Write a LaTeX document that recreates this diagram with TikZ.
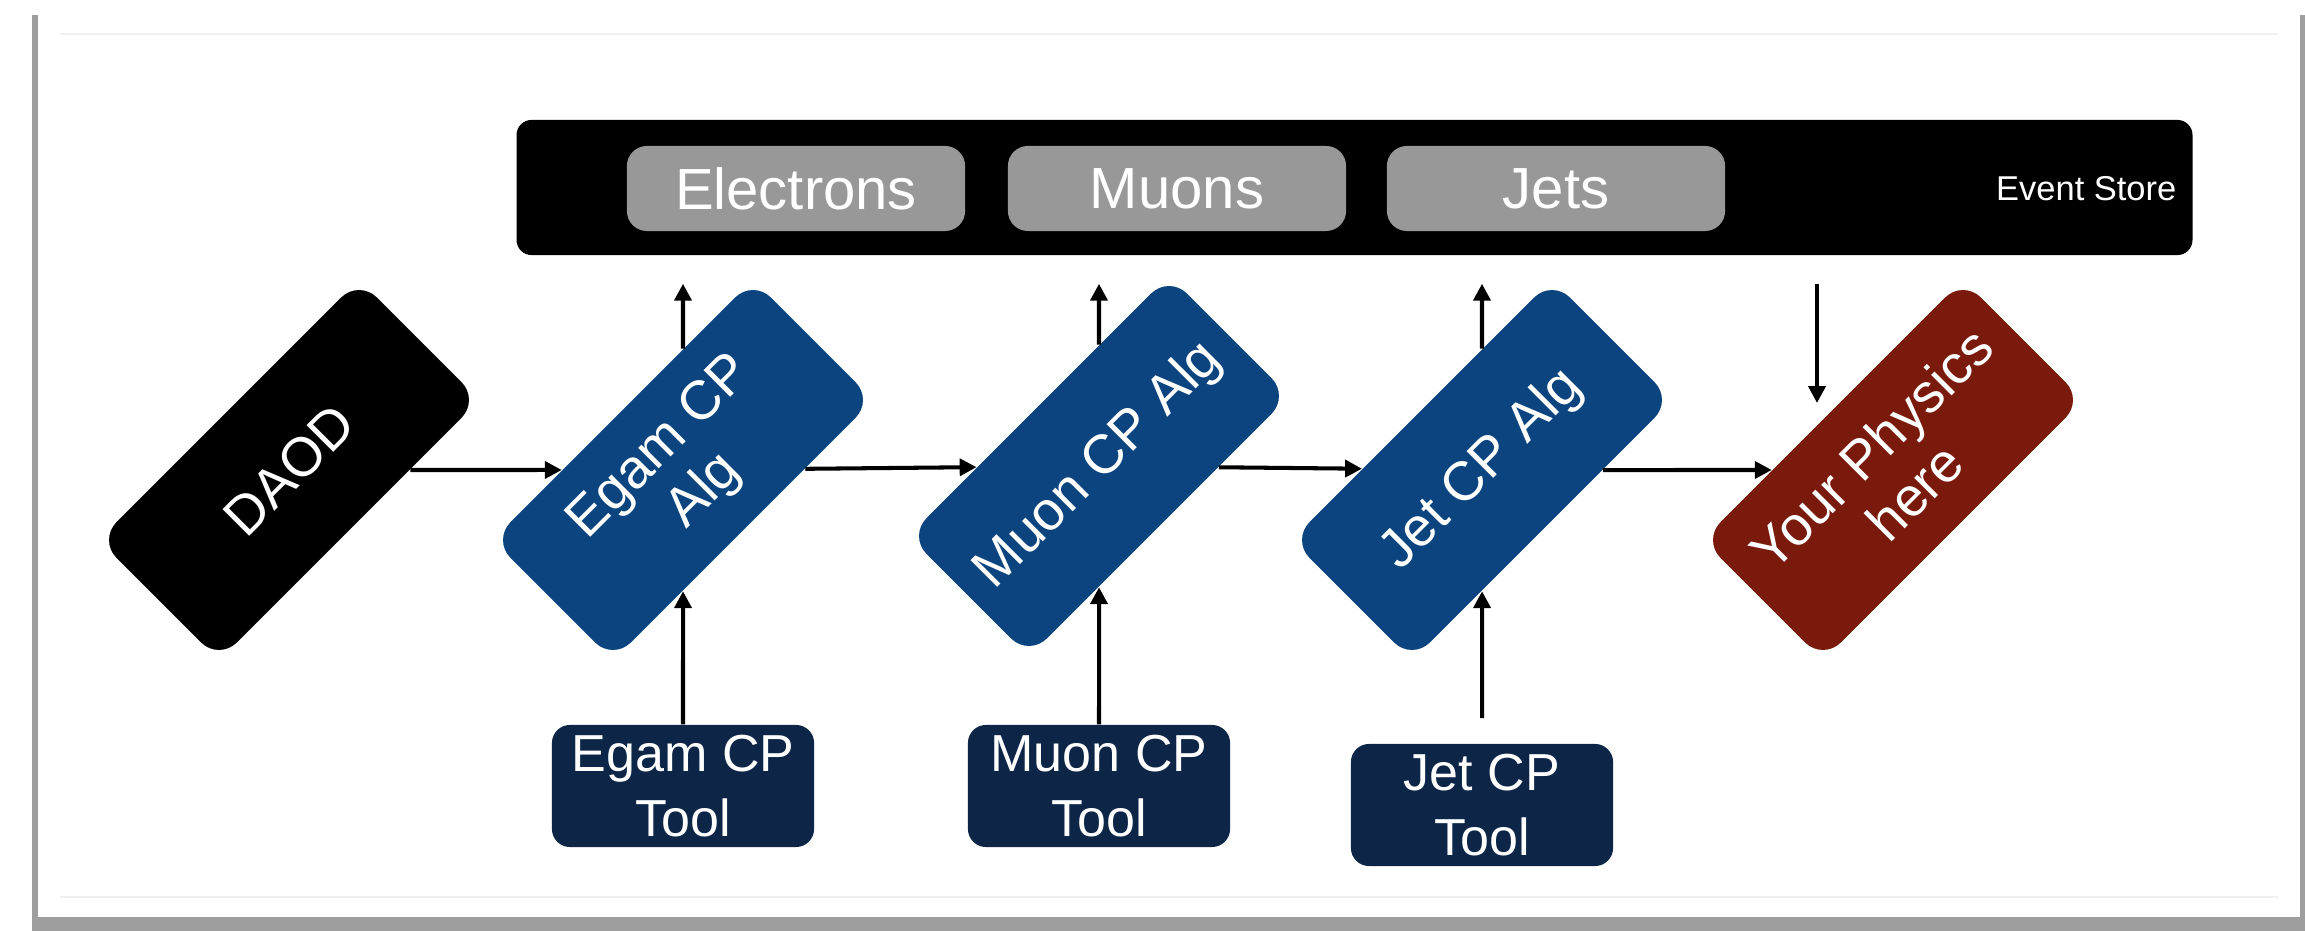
\documentclass[tikz,border=0pt]{standalone}
\usepackage{fontspec}
\setmainfont{Liberation Sans}
\usepackage{xcolor}
\usetikzlibrary{shapes,arrows.meta,positioning,calc}

\definecolor{algblue}{RGB}{12,68,128}
\definecolor{toolnavy}{RGB}{13,37,71}
\definecolor{physred}{RGB}{121,26,12}
\definecolor{storegray}{RGB}{152,152,152}

\begin{document}
\begin{tikzpicture}[x=0.01cm, y=-0.01cm,
    every node/.style={font=\fontsize{15.6}{17.5}\selectfont, text=white, align=center, inner sep=0pt},
    algbox/.style={rounded corners=0.25cm, minimum width=3.68cm, minimum height=1.7cm, rotate=45, fill=algblue},
    toolbox/.style={rounded corners=0.18cm, fill=toolnavy, minimum width=2.62cm, minimum height=1.22cm, font=\fontsize{14.8}{18.5}\selectfont},
    storebox/.style={rounded corners=0.2cm, fill=storegray, minimum width=3.38cm, minimum height=0.85cm, font=\fontsize{16.5}{18}\selectfont},
    arr/.style={-{Triangle[length=4.8pt,width=4.8pt]}, line width=1.15pt}]
        % Page and panel
        \fill[white] (0,0) rectangle (2305,931);
        \fill[black!38] (32,15) rectangle (2305,931);
        \fill[white] (38,12) rectangle (2300,917);
        \draw[black!6, line width=0.3pt] (60,34) -- (2278,34);
        \draw[black!6, line width=0.3pt] (60,897) -- (2278,897);
        % Event store
        \node[fill=black, rounded corners=0.15cm, minimum width=16.75cm, minimum height=1.35cm] (store) at (1354.5,187.5) {};
        \node[anchor=east, font=\fontsize{9.8}{11}\selectfont] (storelabel) at (2177,189) {Event Store};
        \node[storebox] (electrons) at (796,188.5) {Electrons};
        \node[storebox] (muons) at (1177,188.5) {Muons};
        \node[storebox] (jets) at (1556,188.5) {Jets};
        % Algorithm chain
        \node[algbox, fill=black] (daod) at (289,470) {DAOD};
        \node[algbox] (egamalg) at (683,470) {Egam CP\\Alg};
        \node[algbox] (muonalg) at (1099,466) {Muon CP Alg};
        \node[algbox] (jetalg) at (1482,470) {Jet CP Alg};
        \node[algbox, fill=physred] (physics) at (1893,470) {Your Physics\\here};
        % Tools
        \node[toolbox] (egamtool) at (683,786) {Egam CP\\Tool};
        \node[toolbox] (muontool) at (1099,786) {Muon CP\\Tool};
        \node[toolbox] (jettool) at (1482,805) {Jet CP\\Tool};
        % Flow
        \draw[arr] (daod) -- (egamalg);
        \draw[arr] (egamalg) -- (muonalg);
        \draw[arr] (muonalg) -- (jetalg);
        \draw[arr] (jetalg) -- (physics);
        % Tools into algorithms
        \draw[arr] (egamtool) -- (egamalg);
        \draw[arr] (muontool) -- (muonalg);
        \draw[arr, shorten <=0.25cm] (jettool) -- (jetalg);
        % Writing to and reading from the store
        \draw[arr, shorten >=0.28cm] (egamalg) -- (egamalg |- store.south);
        \draw[arr, shorten >=0.28cm] (muonalg) -- (muonalg |- store.south);
        \draw[arr, shorten >=0.28cm] (jetalg) -- (jetalg |- store.south);
        \coordinate (physin) at (1817,403);
        \draw[arr, shorten <=0.28cm] (store.south -| physin) -- (physin);
\end{tikzpicture}
\end{document}
